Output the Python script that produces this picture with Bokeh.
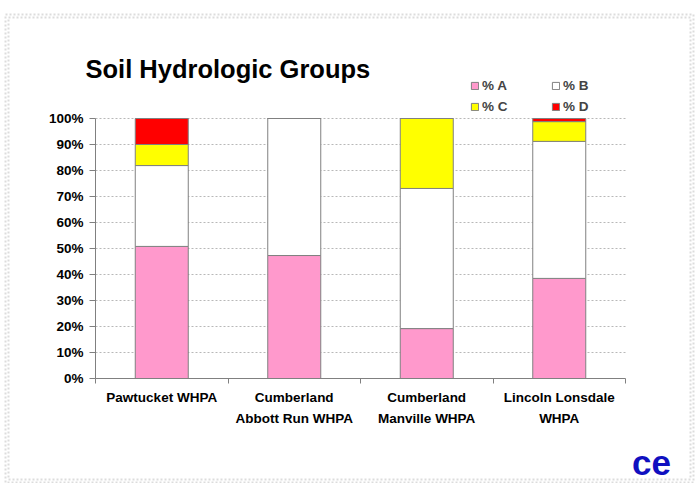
import numpy as np
from bokeh.plotting import figure
from bokeh.models import (FixedTicker, PrintfTickFormatter, Label, BoxAnnotation,
                          Legend, LegendItem, Range1d, ColumnDataSource)
from bokeh.embed import file_html
from bokeh.resources import INLINE

# ---------------- data ----------------
categories = ["Pawtucket WHPA", "Cumberland\nAbbott Run WHPA",
              "Cumberland\nManville WHPA", "Lincoln Lonsdale\nWHPA"]
pct_a = [50.8, 47.3, 19.2, 38.5]
pct_b = [31.1, 52.7, 53.9, 52.7]
pct_c = [8.1, 0.0, 26.9, 7.6]
pct_d = [10.0, 0.0, 0.0, 1.2]
series_names = ["% A", "% B", "% C", "% D"]
series_colors = ["#FF99CC", "#FFFFFF", "#FFFF00", "#FF0000"]
y_ticks = list(range(0, 101, 10))

FONT = "Liberation Sans"

# ---------------- layout (canvas pixels) ----------------
W, H = 695, 483
FRAME_L, FRAME_R, FRAME_T, FRAME_B = 95, 625, 118, 378   # chart area on canvas

n = len(categories)
centers = list(np.arange(n) + 0.5)
bounds = list(range(n + 1))

px_per_cat = (FRAME_R - FRAME_L) / n
px_per_pct = (FRAME_B - FRAME_T) / 100.0
x_range = Range1d(-FRAME_L / px_per_cat, n + (W - FRAME_R) / px_per_cat)
y_range = Range1d(-(H - FRAME_B) / px_per_pct, 100 + FRAME_T / px_per_pct)

src = ColumnDataSource(dict(x=centers, a=pct_a, b=pct_b, c=pct_c, d=pct_d))

p = figure(width=W, height=H, output_backend="svg", toolbar_location=None,
           x_range=x_range, y_range=y_range,
           min_border_left=0, min_border_right=0, min_border_top=0,
           min_border_bottom=0)
p.outline_line_color = None
p.background_fill_color = "white"
p.border_fill_color = "white"

# grid
p.xgrid.grid_line_color = None
p.ygrid.ticker = FixedTicker(ticks=y_ticks[1:])
p.ygrid.grid_line_color = "#b8b8b8"
p.ygrid.grid_line_dash = "2 2"
p.ygrid.grid_line_width = 1
try:
    p.ygrid.cross_bounds = (0, n)
except Exception:
    pass

renderers = p.vbar_stack(["a", "b", "c", "d"], x="x", width=0.4, source=src,
                         fill_color=series_colors, line_color="#808080",
                         line_width=1)

# axes (drawn at the chart's zero lines)
p.yaxis.fixed_location = 0
p.yaxis.bounds = (0, 100)
p.yaxis.ticker = FixedTicker(ticks=y_ticks)
p.yaxis.formatter = PrintfTickFormatter(format="%d%%")
p.xaxis.fixed_location = 0
p.xaxis.bounds = (0, n)
p.xaxis.ticker = FixedTicker(ticks=centers, minor_ticks=bounds)
p.xaxis.major_label_overrides = {c: lab for c, lab in zip(centers, categories)}
for ax in (p.xaxis, p.yaxis):
    ax.axis_line_color = "#808080"
    ax.major_tick_line_color = "#808080"
    ax.minor_tick_line_color = "#808080"
    ax.major_label_text_font = FONT
    ax.major_label_text_font_style = "bold"
    ax.major_label_text_font_size = "13.5px"
    ax.major_label_text_color = "black"
    ax.major_tick_in = 0
    ax.minor_tick_in = 0
p.yaxis.major_tick_out = 6
p.yaxis.minor_tick_out = 0
p.yaxis.major_label_standoff = 6
p.xaxis.major_tick_out = 0
p.xaxis.minor_tick_out = 5
p.xaxis.major_label_standoff = 6
p.xaxis.major_label_text_line_height = 1.4

# legend
items = [LegendItem(label=nm, renderers=[r]) for nm, r in zip(series_names, renderers)]
legend = Legend(items=items, location=(470, H - 113.5), orientation="horizontal",
                ncols=2, glyph_width=9, glyph_height=9, label_standoff=3,
                label_width=63, label_height=15, spacing=6, padding=0,
                border_line_color=None, background_fill_alpha=0,
                label_text_font=FONT, label_text_font_style="bold",
                label_text_font_size="13.5px")
p.add_layout(legend, "center")

# title
p.add_layout(Label(x=85, y=68, x_units="canvas", y_units="canvas",
                   text="Soil Hydrologic Groups", text_font=FONT,
                   text_font_style="bold", text_font_size="25.5px",
                   text_baseline="alphabetic", text_color="black"))

# logo
p.add_layout(Label(x=651, y=462, x_units="canvas", y_units="canvas", text="ce",
                   text_font=FONT, text_font_style="bold", text_font_size="35px",
                   text_align="center", text_baseline="alphabetic",
                   text_color="#1010c0"))

# dotted outer border (double row of dots)
for inset in (0, 3):
    p.add_layout(BoxAnnotation(left=5 + inset, right=693 - inset,
                               top=14 + inset, bottom=482 - inset,
                               left_units="canvas", right_units="canvas",
                               top_units="canvas", bottom_units="canvas",
                               fill_alpha=0, fill_color=None,
                               line_color="#8c8c8c", line_width=2,
                               line_dash="2 2"))

open("out.html", "w").write(file_html(p, INLINE))
